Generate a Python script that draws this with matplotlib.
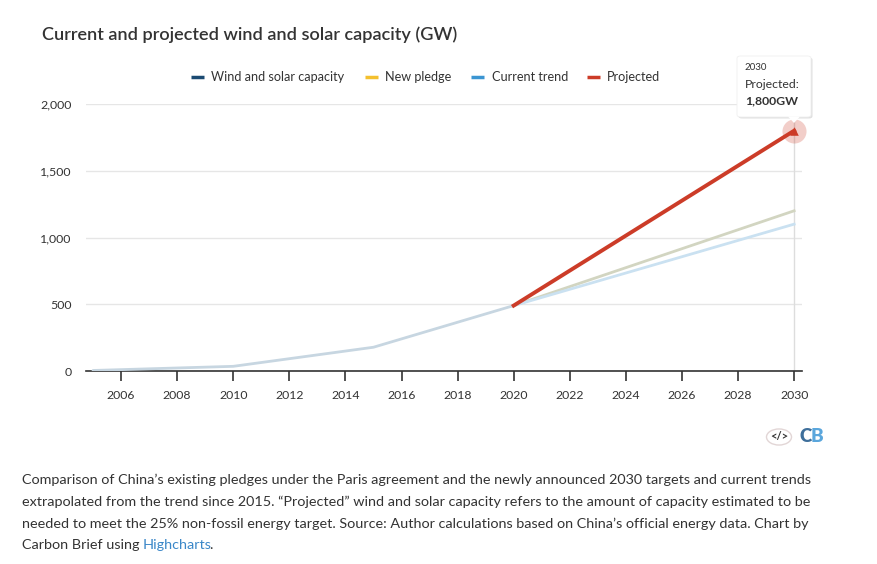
import matplotlib
matplotlib.use("Agg")
import matplotlib.pyplot as plt
from matplotlib.patches import FancyBboxPatch, Circle, Polygon
from matplotlib.lines import Line2D

plt.rcParams['font.family'] = ['Lato', 'DejaVu Sans']

# ---- data ----
hist_years = [2005, 2010, 2015, 2020]
hist_values = [4, 35, 178, 490]
proj_years = [2020, 2030]
new_pledge = [490, 1200]
current_trend = [490, 1100]
projected = [490, 1800]
series_names = ["Wind and solar capacity", "New pledge", "Current trend", "Projected"]
legend_colors = ["#1b4a72", "#f4c02e", "#3b95d2", "#cc3c28"]
xticks = list(range(2006, 2031, 2))
yticks = [0, 500, 1000, 1500, 2000]

W, H = 878, 564
fig = plt.figure(figsize=(W / 100, H / 100), dpi=100)
fig.patch.set_facecolor("white")

def fx(px):
    return px / W

def fy(py):
    return 1 - py / H

ax = fig.add_axes([fx(86), fy(371), fx(801.7) - fx(86), fy(104) - fy(371)])
ax.set_xlim(2004.75, 2030.27)
ax.set_ylim(0, 2000)
ax.set_facecolor("white")
for s in ["top", "right", "left"]:
    ax.spines[s].set_visible(False)
ax.spines["bottom"].set_color("#333333")
ax.spines["bottom"].set_linewidth(1.2)
ax.set_yticks(yticks)
ax.set_yticklabels([f"{v:,}" for v in yticks])
ax.set_xticks(xticks)
ax.set_xticklabels([str(v) for v in xticks])
ax.tick_params(axis="y", length=0, pad=10.5, labelsize=8.9, labelcolor="#333333")
ax.tick_params(axis="x", length=7, width=1.2, color="#333333", pad=6.5,
               labelsize=8.8, labelcolor="#333333", direction="out")
ax.grid(axis="y", color="#e6e6e6", linewidth=1)
ax.set_axisbelow(True)

# crosshair at hovered point
ax.axvline(2030, color="#dddddd", linewidth=1, zorder=1)

ax.plot(hist_years, hist_values, color="#c7d6e1", linewidth=2, zorder=3,
        solid_capstyle="round")
ax.plot(proj_years, new_pledge, color="#d2d5c1", linewidth=2, zorder=3)
ax.plot(proj_years, current_trend, color="#cae1f1", linewidth=2, zorder=3)
ax.plot(proj_years, projected, color="#cc3c28", linewidth=2.8, zorder=4)

# hover halo and marker
ax.scatter([proj_years[-1]], [projected[-1]], s=300, color="#cc3c28", alpha=0.25,
           zorder=5, linewidths=0, clip_on=False)
ax.scatter([proj_years[-1]], [projected[-1]], s=38, marker="^", color="#cc3c28",
           zorder=6, linewidths=0, clip_on=False)

# title
fig.text(fx(42), fy(35), "Current and projected wind and solar capacity (GW)",
         fontsize=13.1, color="#333333", va="center", ha="left", fontweight="semibold")

# legend
leg_items = [(191, 211), (365, 385), (471, 492), (587, 607)]
for (sx, tx), name, col in zip(leg_items, series_names, legend_colors):
    fig.add_artist(Line2D([fx(sx), fx(sx + 13)], [fy(77), fy(77)], color=col,
                          linewidth=2.5, solid_capstyle="butt",
                          transform=fig.transFigure))
    fig.text(fx(tx), fy(77), name, fontsize=9.1, color="#333333", va="center", ha="left")

# tooltip
tx0, ty0, tw, th = 737, 56, 74, 61
shadow = FancyBboxPatch((fx(tx0 + 1.5), fy(ty0 + th + 1.5)), fx(tw), fy(0) - fy(th),
                        boxstyle="round,pad=0,rounding_size=0.004",
                        transform=fig.transFigure, facecolor="#000000", alpha=0.12,
                        edgecolor="none", zorder=9)
fig.add_artist(shadow)
box = FancyBboxPatch((fx(tx0), fy(ty0 + th)), fx(tw), fy(0) - fy(th),
                     boxstyle="round,pad=0,rounding_size=0.004",
                     transform=fig.transFigure, facecolor="white",
                     edgecolor="#f0f0f0", linewidth=0.6, zorder=10)
fig.add_artist(box)
ptr = Polygon([[fx(788), fy(ty0 + th - 0.5)], [fx(800), fy(ty0 + th - 0.5)],
               [fx(794), fy(ty0 + th + 6)]], closed=True, transform=fig.transFigure,
              facecolor="white", edgecolor="none", zorder=11)
fig.add_artist(ptr)
fig.text(fx(745), fy(68), "2030", fontsize=7, color="#333333", va="center", zorder=12)
fig.text(fx(745), fy(85), "Projected:", fontsize=8.8, color="#333333", va="center", zorder=12)
fig.text(fx(745), fy(101), "1,800GW", fontsize=8.8, color="#333333", va="center",
         fontweight="bold", zorder=12)

# CB logo
logo = Circle((fx(779), fy(437)), radius=12.5 / W, transform=fig.transFigure,
              facecolor="white", edgecolor="#e2d6d6", linewidth=1)
fig.add_artist(logo)
fig.text(fx(779), fy(437), "</>", fontsize=8, color="#333333", ha="center", va="center",
         fontweight="bold")
fig.text(fx(800), fy(437), "C", fontsize=13.5, color="#3e6f9b", ha="left", va="center",
         fontweight="heavy")
fig.text(fx(811), fy(437), "B", fontsize=13.5, color="#5aa6dc", ha="left", va="center",
         fontweight="heavy")

# caption
cap_fs = 10.4
caption_lines = [
    "Comparison of China\u2019s existing pledges under the Paris agreement and the newly announced 2030 targets and current trends",
    "extrapolated from the trend since 2015. \u201cProjected\u201d wind and solar capacity refers to the amount of capacity estimated to be",
    "needed to meet the 25% non-fossil energy target. Source: Author calculations based on China\u2019s official energy data. Chart by",
]
line_y = [480, 502, 524, 545]
for txt, yy in zip(caption_lines, line_y):
    fig.text(fx(22), fy(yy), txt, fontsize=cap_fs, color="#333333", va="center", ha="left")

# last line, with the "Highcharts" link in blue
y_last = fy(line_y[3])
fig.text(fx(22), y_last, "Carbon Brief using", fontsize=cap_fs, color="#333333",
         va="center", ha="left")
fig.canvas.draw()
r = fig.canvas.get_renderer()
probe1 = fig.text(fx(22), y_last, "Carbon Brief using Highcharts", fontsize=cap_fs,
                  va="center", ha="left")
x_hc = probe1.get_window_extent(r).x1
probe1.remove()
fig.text(x_hc / W, y_last, "Highcharts", fontsize=cap_fs, color="#3a87c8",
         va="center", ha="right")
fig.text((x_hc - 3.2) / W, y_last, ".", fontsize=cap_fs, color="#333333", va="center",
         ha="left")

fig.savefig("out.png", dpi=100, facecolor="white")
